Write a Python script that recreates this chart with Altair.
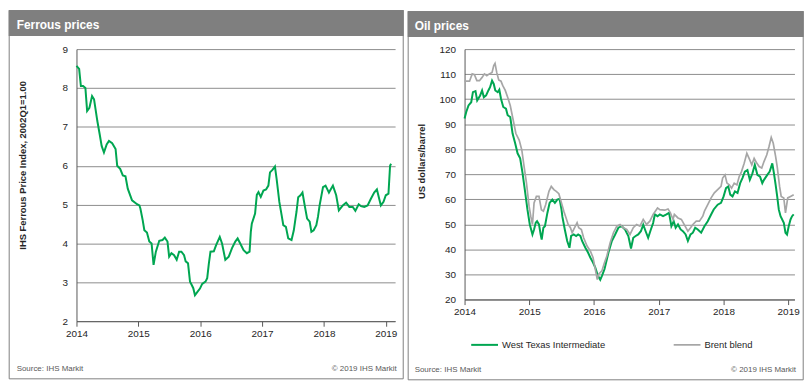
import altair as alt
import pandas as pd

FONT = "Arial"
GREEN = "#00a651"
GREY = "#a6a6a6"
FRAME = "#808080"
BAR = "#7f7f7f"
GRID = "#8c8c8c"
AXIS = "#595959"
LABEL = "#262626"

# ---------------- data ----------------
ferrous = [
    (2014.000, 8.57), (2014.043, 8.49), (2014.071, 8.05), (2014.107, 8.05), (2014.144, 8.00),
    (2014.172, 7.41), (2014.209, 7.49), (2014.252, 7.79), (2014.284, 7.71), (2014.337, 7.15),
    (2014.375, 6.81), (2014.407, 6.51), (2014.444, 6.34), (2014.488, 6.55), (2014.525, 6.64),
    (2014.577, 6.58), (2014.632, 6.43), (2014.658, 6.00), (2014.706, 5.92), (2014.749, 5.75),
    (2014.792, 5.73), (2014.829, 5.41), (2014.898, 5.11), (2014.979, 5.01), (2015.017, 4.98),
    (2015.033, 4.90), (2015.070, 4.60), (2015.097, 4.34), (2015.139, 4.28), (2015.177, 4.05),
    (2015.214, 4.00), (2015.246, 3.45), (2015.283, 3.79), (2015.338, 4.07), (2015.391, 4.09),
    (2015.428, 4.15), (2015.471, 4.05), (2015.498, 3.66), (2015.535, 3.75), (2015.578, 3.70),
    (2015.620, 3.58), (2015.659, 3.79), (2015.696, 3.79), (2015.739, 3.70), (2015.765, 3.54),
    (2015.803, 3.49), (2015.835, 3.02), (2015.861, 2.94), (2015.888, 2.85), (2015.915, 2.67),
    (2015.952, 2.75), (2015.996, 2.84), (2016.032, 2.96), (2016.085, 3.02), (2016.113, 3.11),
    (2016.140, 3.49), (2016.166, 3.79), (2016.220, 3.80), (2016.257, 3.96), (2016.316, 4.17),
    (2016.353, 4.00), (2016.406, 3.58), (2016.461, 3.66), (2016.514, 3.88), (2016.567, 4.05),
    (2016.605, 4.13), (2016.647, 4.00), (2016.701, 3.83), (2016.754, 3.75), (2016.798, 3.79),
    (2016.818, 4.30), (2016.834, 4.51), (2016.887, 4.77), (2016.915, 5.25), (2016.942, 5.32),
    (2016.979, 5.20), (2017.022, 5.36), (2017.064, 5.39), (2017.102, 5.49), (2017.128, 5.83),
    (2017.171, 5.90), (2017.208, 5.98), (2017.235, 5.66), (2017.279, 5.07), (2017.316, 4.73),
    (2017.343, 4.47), (2017.385, 4.43), (2017.423, 4.13), (2017.476, 4.09), (2017.513, 4.34),
    (2017.540, 4.64), (2017.556, 4.81), (2017.584, 5.19), (2017.621, 5.24), (2017.653, 5.31),
    (2017.689, 4.98), (2017.728, 4.64), (2017.770, 4.56), (2017.797, 4.30), (2017.834, 4.34),
    (2017.877, 4.47), (2017.904, 4.69), (2017.930, 4.98), (2017.985, 5.45), (2018.026, 5.49),
    (2018.081, 5.31), (2018.145, 5.49), (2018.198, 5.24), (2018.241, 4.85), (2018.305, 4.98),
    (2018.358, 5.05), (2018.411, 4.94), (2018.466, 4.94), (2018.508, 4.84), (2018.562, 5.01),
    (2018.599, 4.96), (2018.652, 4.94), (2018.706, 4.98), (2018.759, 5.15), (2018.812, 5.31),
    (2018.856, 5.39), (2018.893, 5.15), (2018.920, 4.98), (2018.963, 5.07), (2019.000, 5.24),
    (2019.043, 5.28), (2019.069, 6.00), (2019.085, 6.05),
]

wti = [
    (2014.000, 92.3), (2014.026, 94.9), (2014.061, 97.5), (2014.103, 98.8), (2014.129, 102.8),
    (2014.169, 103.2), (2014.195, 99.5), (2014.241, 101.5), (2014.271, 103.5), (2014.298, 100.8),
    (2014.333, 101.5), (2014.368, 103.5), (2014.394, 104.8), (2014.425, 107.4), (2014.451, 106.1),
    (2014.475, 103.5), (2014.512, 102.8), (2014.537, 103.8), (2014.563, 100.2), (2014.598, 96.9),
    (2014.640, 96.2), (2014.666, 93.6), (2014.706, 92.9), (2014.742, 86.3), (2014.782, 82.4),
    (2014.819, 78.4), (2014.859, 76.4), (2014.896, 70.5), (2014.931, 63.9), (2014.972, 55.9),
    (2015.008, 50.0), (2015.049, 46.0), (2015.074, 48.0), (2015.100, 50.7), (2015.120, 51.3),
    (2015.150, 50.0), (2015.176, 46.0), (2015.192, 44.0), (2015.218, 48.7), (2015.242, 49.3),
    (2015.279, 54.5), (2015.314, 58.6), (2015.356, 59.9), (2015.396, 58.6), (2015.433, 59.9),
    (2015.468, 60.2), (2015.498, 55.9), (2015.512, 53.0), (2015.549, 48.0), (2015.586, 43.4),
    (2015.621, 40.7), (2015.647, 45.4), (2015.687, 46.0), (2015.724, 45.4), (2015.755, 46.0),
    (2015.790, 45.4), (2015.816, 43.4), (2015.867, 40.7), (2015.908, 38.8), (2015.943, 36.8),
    (2015.985, 34.8), (2016.020, 32.8), (2016.061, 29.5), (2016.097, 27.9), (2016.123, 29.5),
    (2016.163, 32.2), (2016.224, 38.8), (2016.276, 43.4), (2016.327, 46.0), (2016.377, 48.7),
    (2016.429, 49.3), (2016.480, 48.0), (2016.531, 45.4), (2016.572, 40.4), (2016.607, 44.7),
    (2016.644, 45.4), (2016.684, 46.0), (2016.725, 47.3), (2016.761, 49.9), (2016.798, 47.3),
    (2016.837, 44.7), (2016.879, 48.0), (2016.914, 50.6), (2016.940, 54.0), (2016.982, 53.3),
    (2017.017, 54.0), (2017.067, 53.3), (2017.120, 54.0), (2017.160, 54.6), (2017.196, 49.3),
    (2017.232, 51.3), (2017.262, 48.7), (2017.298, 50.0), (2017.339, 48.0), (2017.374, 47.3),
    (2017.416, 46.0), (2017.451, 43.4), (2017.492, 46.0), (2017.528, 46.7), (2017.564, 48.7),
    (2017.604, 48.0), (2017.656, 46.7), (2017.707, 49.3), (2017.758, 51.3), (2017.810, 54.0),
    (2017.850, 56.0), (2017.911, 57.9), (2017.963, 58.6), (2018.003, 61.2), (2018.040, 64.5),
    (2018.075, 65.2), (2018.106, 61.9), (2018.141, 61.2), (2018.178, 63.2), (2018.218, 62.6),
    (2018.259, 66.5), (2018.294, 68.5), (2018.331, 71.1), (2018.371, 71.7), (2018.408, 67.8),
    (2018.448, 70.4), (2018.485, 73.8), (2018.525, 69.8), (2018.566, 69.1), (2018.601, 66.5),
    (2018.627, 67.8), (2018.678, 69.8), (2018.715, 71.1), (2018.755, 74.4), (2018.781, 70.4),
    (2018.807, 65.8), (2018.831, 61.2), (2018.856, 55.9), (2018.883, 53.3), (2018.933, 50.7),
    (2018.959, 46.7), (2018.983, 46.0), (2019.009, 49.3), (2019.037, 52.0), (2019.061, 53.3),
    (2019.086, 54.0),
]

brent = [
    (2014.000, 107.2), (2014.077, 107.2), (2014.118, 110.1), (2014.153, 109.8), (2014.190, 107.4),
    (2014.230, 107.4), (2014.271, 108.7), (2014.307, 110.1), (2014.344, 109.4), (2014.383, 110.1),
    (2014.425, 110.7), (2014.451, 113.4), (2014.471, 114.3), (2014.497, 110.7), (2014.528, 107.7),
    (2014.563, 107.2), (2014.589, 105.5), (2014.629, 103.5), (2014.666, 100.8), (2014.706, 97.5),
    (2014.742, 92.9), (2014.793, 86.3), (2014.844, 83.7), (2014.885, 79.7), (2014.920, 73.1),
    (2014.957, 66.5), (2014.997, 57.3), (2015.023, 53.3), (2015.049, 50.0), (2015.074, 58.6),
    (2015.110, 61.2), (2015.150, 61.2), (2015.187, 55.9), (2015.218, 55.3), (2015.253, 57.9),
    (2015.304, 63.2), (2015.340, 65.2), (2015.380, 63.9), (2015.417, 63.2), (2015.457, 62.3),
    (2015.498, 58.6), (2015.534, 55.3), (2015.560, 53.3), (2015.601, 50.0), (2015.636, 48.7),
    (2015.663, 46.7), (2015.687, 48.0), (2015.739, 50.7), (2015.764, 48.7), (2015.805, 48.0),
    (2015.840, 44.7), (2015.893, 41.4), (2015.943, 39.4), (2015.985, 36.8), (2016.020, 32.2),
    (2016.051, 28.0), (2016.071, 30.2), (2016.123, 31.5), (2016.163, 34.8), (2016.199, 37.4),
    (2016.250, 42.7), (2016.301, 46.7), (2016.353, 49.3), (2016.403, 50.0), (2016.454, 48.7),
    (2016.506, 48.0), (2016.557, 46.0), (2016.607, 48.7), (2016.659, 50.0), (2016.710, 49.3),
    (2016.761, 52.0), (2016.813, 50.0), (2016.863, 51.3), (2016.914, 54.0), (2016.940, 55.0),
    (2016.982, 56.6), (2017.017, 55.9), (2017.094, 55.7), (2017.144, 56.2), (2017.181, 54.6),
    (2017.221, 52.0), (2017.242, 54.0), (2017.298, 52.6), (2017.350, 52.0), (2017.393, 50.0),
    (2017.451, 47.3), (2017.492, 48.7), (2017.528, 50.0), (2017.580, 51.3), (2017.629, 51.3),
    (2017.681, 53.3), (2017.707, 55.3), (2017.758, 57.9), (2017.810, 60.6), (2017.860, 62.6),
    (2017.911, 63.9), (2017.963, 65.2), (2017.988, 68.5), (2018.025, 69.8), (2018.055, 66.5),
    (2018.091, 65.8), (2018.126, 64.5), (2018.167, 66.5), (2018.209, 65.8), (2018.244, 69.1),
    (2018.279, 71.1), (2018.321, 74.4), (2018.362, 78.4), (2018.397, 76.4), (2018.439, 73.8),
    (2018.475, 76.4), (2018.517, 74.4), (2018.552, 73.1), (2018.592, 72.5), (2018.627, 75.1),
    (2018.669, 77.7), (2018.704, 81.0), (2018.739, 84.7), (2018.770, 82.4), (2018.807, 77.1),
    (2018.831, 73.1), (2018.868, 65.2), (2018.893, 61.2), (2018.933, 60.6), (2018.959, 54.6),
    (2018.994, 60.6), (2019.037, 61.2), (2019.086, 61.9),
]

series_names = ["West Texas Intermediate", "Brent blend"]
year_ticks = [2014, 2015, 2016, 2017, 2018, 2019]
ferrous_ticks = [2, 3, 4, 5, 6, 7, 8, 9]
oil_ticks = [20, 30, 40, 50, 60, 70, 80, 90, 100, 110, 120]

panel_titles = ["Ferrous prices", "Oil prices"]
source_text = "Source:  IHS Markit"
copyright_text = "\u00a9 2019 IHS Markit"
ferrous_ytitle = "IHS Ferrous Price Index, 2002Q1=1.00"
oil_ytitle = "US dollars/barrel"

# ---------------- helpers ----------------
one = pd.DataFrame({"k": [0]})


def decorations(title, bx1, bx2, by1, by2, tx, ty, fy, frx):
    bar = alt.Chart(one).mark_rect(fill=BAR, strokeWidth=0).encode(
        x=alt.value(bx1 - 0.5), x2=alt.value(bx2 + 0.5),
        y=alt.value(by1 - 0.5), y2=alt.value(by1 + 25.5))
    border = alt.Chart(one).mark_rect(fillOpacity=0, stroke=FRAME, strokeWidth=1).encode(
        x=alt.value(bx1), x2=alt.value(bx2), y=alt.value(by1), y2=alt.value(by2))
    ttl = alt.Chart(one).mark_text(
        align="left", baseline="alphabetic", font=FONT, fontSize=12,
        fontWeight="bold", color="white").encode(
        x=alt.value(tx), y=alt.value(ty), text=alt.value(title))
    src = alt.Chart(one).mark_text(
        align="left", baseline="alphabetic", font=FONT, fontSize=8, color=AXIS).encode(
        x=alt.value(tx), y=alt.value(fy), text=alt.value(source_text))
    cpr = alt.Chart(one).mark_text(
        align="right", baseline="alphabetic", font=FONT, fontSize=8, color=AXIS).encode(
        x=alt.value(frx), y=alt.value(fy), text=alt.value(copyright_text))
    return [bar, border, ttl, src, cpr]


def x_axis():
    return alt.Axis(values=year_ticks, format="d", grid=False, ticks=True, tickSize=5,
                    tickColor=AXIS, domain=True, domainColor=AXIS, labelFont=FONT,
                    labelFontSize=10, labelColor=LABEL, labelPadding=2, labelFlush=False,
                    labelOverlap=False, title=None)


def y_axis(vals, title, tx, ty):
    return alt.Axis(values=vals, grid=True, gridColor=GRID, gridWidth=1, ticks=False,
                    domain=True, domainColor=AXIS, labelFont=FONT, labelFontSize=10,
                    labelColor=LABEL, labelPadding=9, title=title, titleFont=FONT,
                    titleFontSize=9.5, titleFontWeight="bold", titleColor=LABEL,
                    titleAngle=270, titleAlign="center", titleBaseline="alphabetic",
                    titleX=tx, titleY=ty)


# ---------------- ferrous panel ----------------
W1, H1 = 321, 274.2
OX1, OY1 = 68.3, 39.3
fdf = pd.DataFrame(ferrous, columns=["t", "v"])
fline = alt.Chart(fdf).mark_line(color=GREEN, strokeWidth=2).encode(
    x=alt.X("t:Q", scale=alt.Scale(domain=[2014, 2019.15], nice=False, zero=False),
            axis=x_axis()),
    y=alt.Y("v:Q", scale=alt.Scale(domain=[2, 9], nice=False, zero=False),
            axis=y_axis(ferrous_ticks, ferrous_ytitle, 17 - OX1, 156 - OY1)),
)
left = alt.layer(
    *decorations(panel_titles[0], 0.5 - OX1, 397.5 - OX1, 0.5 - OY1, 371.5 - OY1,
                 8 - OX1, 19 - OY1, 364 - OY1, 391 - OX1),
    fline,
).properties(width=W1, height=H1)

# ---------------- oil panel ----------------
W2, H2 = 332.4, 252.4
OX2, OY2 = 458.3, 38.3
rows = [(t, v, series_names[0]) for t, v in wti] + [(t, v, series_names[1]) for t, v in brent]
odf = pd.DataFrame(rows, columns=["t", "v", "series"])
oline = alt.Chart(odf).mark_line().encode(
    x=alt.X("t:Q", scale=alt.Scale(domain=[2014, 2019.098], nice=False, zero=False),
            axis=x_axis()),
    y=alt.Y("v:Q", scale=alt.Scale(domain=[20, 120], nice=False, zero=False),
            axis=y_axis(oil_ticks, oil_ytitle, 417.5 - OX2, 151 - OY2)),
    color=alt.Color("series:N", sort=series_names,
                    scale=alt.Scale(domain=series_names, range=[GREEN, GREY]),
                    legend=alt.Legend(orient="none", legendX=464 - OX2, legendY=283.5,
                                      direction="horizontal", title=None,
                                      symbolType="stroke", symbolSize=729,
                                      symbolStrokeWidth=2, labelFont=FONT,
                                      labelFontSize=9.5, labelColor=LABEL,
                                      labelOffset=3, columnPadding=64, padding=0)),
    strokeWidth=alt.StrokeWidth("series:N",
                                scale=alt.Scale(domain=series_names, range=[2, 1.7]),
                                legend=None),
    order=alt.Order("series_order:Q"),
).transform_calculate(series_order="datum.series == 'Brent blend' ? 1 : 0")
right = alt.layer(
    *decorations(panel_titles[1], 401.5 - OX2, 799.5 - OX2, 0.5 - OY2, 371.5 - OY2,
                 408 - OX2, 19 - OY2, 364 - OY2, 792.3 - OX2),
    oline,
).properties(width=W2, height=H2)

chart = alt.hconcat(left, right, spacing=3).resolve_scale(
    color="independent", strokeWidth="independent"
).resolve_legend(color="independent").properties(
    padding=0, background="white"
).configure_view(strokeWidth=0)

chart.save("out.html", embed_options={"renderer": "svg", "actions": False})
